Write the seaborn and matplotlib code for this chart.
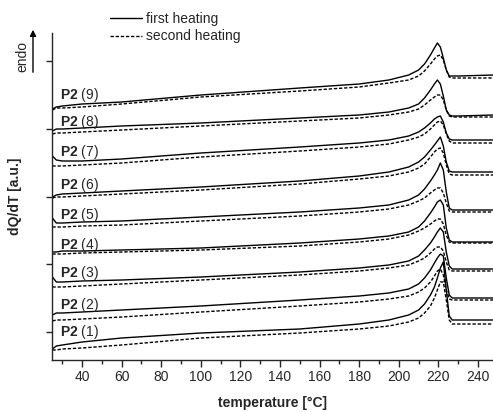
import numpy as np
import pandas as pd
import matplotlib
matplotlib.use("Agg")
import matplotlib.pyplot as plt
from matplotlib.lines import Line2D
from matplotlib.ticker import MultipleLocator
import seaborn as sns

# temperature grid [°C]
temps = [25, 27, 30, 40, 60, 100, 150, 180, 195, 205, 210, 213, 216, 218,
         219.5, 221, 222.5, 224, 225.5, 227, 230, 248]

# stacked dQ/dT traces [a.u.], first heating (solid) / second heating (dashed)
first_1 = [-1.7, -1.4, -1.3, -1.0, -0.6, -0.1, 0.3, 0.8, 1.2, 1.7, 2.2, 2.8, 3.7, 4.5, 5.4, 6.4, 7.0, 4.2, 1.6, 1.2, 1.2, 1.2]
second_1 = [-1.8, -1.8, -1.7, -1.6, -1.3, -0.6, -0.1, 0.3, 0.6, 1.0, 1.4, 1.9, 2.6, 3.4, 4.2, 5.0, 5.0, 3.2, 1.2, 0.8, 0.8, 0.8]
first_2 = [1.7, 1.9, 1.9, 2.0, 2.2, 2.6, 3.2, 3.6, 3.9, 4.3, 4.8, 5.4, 6.2, 6.9, 7.4, 7.8, 7.6, 5.4, 3.7, 3.4, 3.4, 3.4]
second_2 = [1.1, 1.2, 1.2, 1.3, 1.5, 2.0, 2.6, 3.0, 3.3, 3.6, 4.0, 4.4, 5.0, 5.6, 6.1, 6.3, 5.7, 4.2, 3.3, 3.2, 3.2, 3.2]
first_3 = [5.5, 5.0, 5.0, 5.1, 5.2, 5.5, 6.0, 6.4, 6.7, 7.1, 7.6, 8.2, 8.9, 9.5, 10.0, 10.4, 10.0, 8.0, 6.6, 6.3, 6.3, 6.3]
second_3 = [4.5, 4.5, 4.5, 4.6, 4.8, 5.2, 5.7, 6.1, 6.4, 6.7, 7.1, 7.4, 7.9, 8.3, 8.5, 8.5, 8.1, 7.0, 6.2, 6.1, 6.1, 6.1]
first_4 = [8.0, 8.0, 8.1, 8.1, 8.2, 8.4, 8.9, 9.3, 9.6, 10.0, 10.5, 11.1, 11.9, 12.5, 13.0, 13.2, 12.7, 10.4, 9.2, 9.0, 9.0, 9.0]
second_4 = [7.8, 7.8, 7.8, 7.9, 8.0, 8.2, 8.6, 9.0, 9.3, 9.7, 10.1, 10.4, 10.8, 11.1, 11.3, 11.3, 10.8, 9.7, 9.0, 8.9, 8.9, 8.9]
first_5 = [11.4, 10.9, 10.9, 11.0, 11.1, 11.5, 12.0, 12.4, 12.7, 13.2, 13.7, 14.3, 15.1, 15.7, 16.2, 16.9, 16.2, 14.0, 12.4, 12.2, 12.2, 12.2]
second_5 = [10.5, 10.5, 10.5, 10.6, 10.7, 11.1, 11.6, 12.0, 12.3, 12.7, 13.1, 13.4, 13.9, 14.2, 14.4, 14.4, 13.9, 12.9, 12.1, 12.0, 12.0, 12.0]
first_6 = [13.5, 13.7, 13.8, 13.9, 14.1, 14.5, 15.1, 15.6, 16.0, 16.5, 17.0, 17.5, 18.2, 18.7, 19.1, 19.5, 18.6, 17.0, 16.1, 16.0, 16.0, 16.0]
second_6 = [13.4, 13.5, 13.5, 13.6, 13.8, 14.2, 14.8, 15.3, 15.6, 16.0, 16.4, 16.8, 17.5, 18.0, 18.3, 18.4, 17.9, 16.7, 15.8, 15.7, 15.7, 15.7]
first_7 = [17.6, 17.2, 17.1, 17.1, 17.3, 17.9, 18.5, 18.9, 19.2, 19.6, 20.0, 20.4, 20.9, 21.3, 21.5, 21.6, 21.0, 19.9, 19.3, 19.2, 19.2, 19.2]
second_7 = [16.6, 16.6, 16.6, 16.7, 16.9, 17.5, 18.1, 18.5, 18.8, 19.2, 19.5, 19.8, 20.3, 20.7, 21.0, 21.1, 20.7, 19.8, 19.1, 18.9, 18.9, 18.9]
first_8 = [20.1, 20.3, 20.3, 20.4, 20.6, 20.9, 21.4, 21.7, 22.0, 22.4, 22.8, 23.4, 24.2, 24.8, 25.2, 24.8, 23.6, 22.2, 21.7, 21.6, 21.6, 21.7]
second_8 = [19.8, 19.9, 19.9, 20.0, 20.2, 20.6, 21.1, 21.4, 21.7, 22.0, 22.3, 22.7, 23.2, 23.5, 23.7, 23.7, 23.2, 22.2, 21.6, 21.5, 21.5, 21.5]
first_9 = [22.3, 22.5, 22.6, 22.8, 23.0, 23.7, 24.4, 24.8, 25.2, 25.7, 26.2, 26.8, 27.7, 28.4, 28.9, 28.5, 27.4, 26.2, 25.6, 25.6, 25.6, 25.7]
second_9 = [22.2, 22.4, 22.4, 22.5, 22.8, 23.5, 24.1, 24.5, 24.9, 25.2, 25.6, 26.1, 26.8, 27.3, 27.6, 27.7, 27.2, 26.2, 25.5, 25.4, 25.4, 25.4]

samples = [1, 2, 3, 4, 5, 6, 7, 8, 9]
first_runs = [first_1, first_2, first_3, first_4, first_5, first_6, first_7, first_8, first_9]
second_runs = [second_1, second_2, second_3, second_4, second_5, second_6, second_7, second_8, second_9]
label_y = [0.0, 2.7, 5.9, 8.7, 11.7, 14.7, 18.0, 21.0, 23.7]

# long form table for seaborn
rows = []
for s, f, d in zip(samples, first_runs, second_runs):
    for t, a, b in zip(temps, f, d):
        rows.append((t, a, s, 'first heating'))
        rows.append((t, b, s, 'second heating'))
df = pd.DataFrame(rows, columns=['temperature', 'signal', 'sample', 'heating'])

sns.set_style('ticks')
plt.rcParams['font.family'] = ['Liberation Sans', 'DejaVu Sans']
plt.rcParams['mathtext.fontset'] = 'custom'
plt.rcParams['mathtext.rm'] = 'Liberation Sans'
plt.rcParams['mathtext.bf'] = 'Liberation Sans:bold'

fig = plt.figure(figsize=(4.93, 4.12), dpi=100)
ax = fig.add_axes([52 / 493, 52 / 412, 441 / 493, 327 / 412])

dash = (2.4, 1.3)
sns.lineplot(data=df, x='temperature', y='signal', units='sample', estimator=None,
             style='heating', dashes={'first heating': '', 'second heating': dash},
             color='black', linewidth=1.0, sort=False, legend=False, ax=ax)

for s, y in zip(samples, label_y):
    ax.text(28.9, y, r'$\mathbf{P2}$ (%d)' % s, fontsize=10, va='center', ha='left')

ax.set_xlim(24.8, 247.6)
ax.set_ylim(-2.8, 29.9)
ax.xaxis.set_minor_locator(MultipleLocator(10))
ax.set_xticks(np.arange(40, 241, 20))
ax.set_yticks([0, 6.78, 13.55, 20.33, 27.1])
ax.set_yticklabels([])
ax.tick_params(axis='x', which='major', direction='out', length=5, width=1, pad=2, labelsize=10)
ax.tick_params(axis='x', which='minor', direction='out', length=3, width=1)
ax.tick_params(axis='y', direction='out', length=4, width=1)
for side in ['top', 'right']:
    ax.spines[side].set_visible(False)
for side in ['left', 'bottom']:
    ax.spines[side].set_linewidth(1.0)

ax.set_xlabel('temperature [°C]', fontsize=10, fontweight='bold')
ax.set_ylabel('dQ/dT [a.u.]', fontsize=10, fontweight='bold')
ax.xaxis.set_label_coords(0.5, -0.11)
ax.yaxis.set_label_coords(-0.068, 0.5)

handles = [Line2D([], [], color='black', lw=1.0),
           Line2D([], [], color='black', lw=1.0, dashes=dash)]
fig.legend(handles, ['first heating', 'second heating'], loc='upper left',
           bbox_to_anchor=(110 / 493, 1 - 12 / 412), frameon=False, fontsize=10,
           handlelength=2.3, handletextpad=0.3, labelspacing=0.25,
           borderpad=0, borderaxespad=0)

# endo arrow
fig.text(22 / 493, 1 - 57 / 412, 'endo', rotation=90, ha='center', va='center', fontsize=10)
ax.annotate('', xy=(33 / 493, 1 - 27 / 412), xytext=(33 / 493, 1 - 75 / 412),
            xycoords='figure fraction', textcoords='figure fraction',
            arrowprops=dict(arrowstyle='-|>', color='black', lw=1, mutation_scale=9))

fig.savefig('out.png', dpi=100)
